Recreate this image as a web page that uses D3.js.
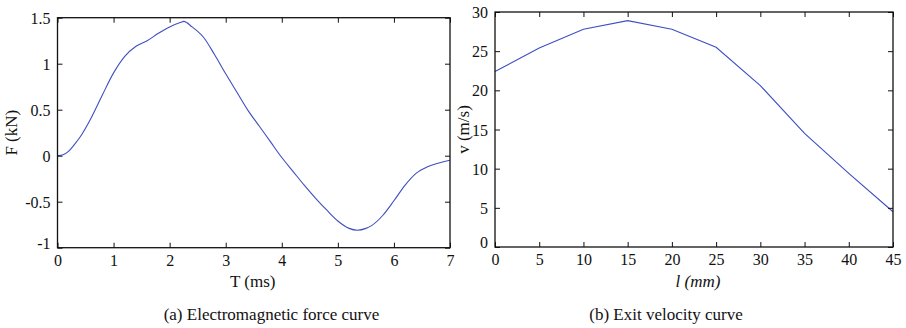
<!DOCTYPE html>
<html>
<head>
<meta charset="utf-8">
<script src="https://cdn.jsdelivr.net/npm/d3@7"></script>
<style>
  html, body { margin: 0; padding: 0; background: #fff; }
  svg, svg text { font-family: "Liberation Serif", "Times New Roman", "DejaVu Serif", serif !important; }
  svg text { fill: #111; }
</style>
</head>
<body>
<svg id="chart" width="906" height="328" font-family="Liberation Serif, serif"></svg>
<script>
// ---- Data: (a) electromagnetic force curve ----
const forceT = [0, 0.1, 0.2, 0.3, 0.4, 0.6, 0.8, 1.0, 1.2, 1.4, 1.6, 1.8, 2.0, 2.2, 2.25, 2.4, 2.6, 2.8, 3.0, 3.2, 3.4, 3.6, 3.8, 4.0, 4.2, 4.4, 4.6, 4.8, 5.0, 5.2, 5.35, 5.5, 5.6, 5.8, 6.0, 6.2, 6.4, 6.6, 6.8, 7.0];
const forceF = [0, 0.01, 0.05, 0.12, 0.20, 0.41, 0.66, 0.90, 1.08, 1.19, 1.25, 1.33, 1.40, 1.45, 1.46, 1.40, 1.29, 1.10, 0.89, 0.69, 0.49, 0.32, 0.15, -0.02, -0.17, -0.32, -0.46, -0.59, -0.71, -0.79, -0.81, -0.79, -0.76, -0.65, -0.49, -0.32, -0.19, -0.12, -0.08, -0.05];
const forceXTicks = [0, 1, 2, 3, 4, 5, 6, 7];
const forceYTicks = [-1, -0.5, 0, 0.5, 1, 1.5];

// ---- Data: (b) exit velocity curve ----
const lenL = [0, 5, 10, 15, 20, 25, 30, 35, 40, 45];
const velV = [22.4, 25.4, 27.8, 28.9, 27.8, 25.5, 20.6, 14.5, 9.4, 4.5];
const velXTicks = [0, 5, 10, 15, 20, 25, 30, 35, 40, 45];
const velYTicks = [0, 5, 10, 15, 20, 25, 30];

const svg = d3.select("#chart");
const lineColor = "#3d4fc2";
const FONT = '"Liberation Serif", "Times New Roman", serif';
const fmt = d => String(d);

function panel(cfg) {
  const x = d3.scaleLinear().domain(cfg.xDomain).range([cfg.left, cfg.right]);
  const y = d3.scaleLinear().domain(cfg.yDomain).range([cfg.bottom, cfg.top]);
  const g = svg.append("g");

  // data line
  g.append("path")
    .datum(cfg.xs.map((v, i) => [v, cfg.ys[i]]))
    .attr("fill", "none")
    .attr("stroke", lineColor)
    .attr("stroke-width", 1.1)
    .attr("d", d3.line().curve(cfg.smooth ? d3.curveMonotoneX : d3.curveLinear)
      .x(d => x(d[0])).y(d => y(d[1])));

  const tickLen = 5;
  const gb = g.append("g").attr("transform", `translate(0,${cfg.bottom})`)
    .call(d3.axisBottom(x).tickValues(cfg.xTicks).tickSizeInner(-tickLen).tickSizeOuter(0).tickFormat(fmt));
  gb.selectAll("text").attr("y", 18).attr("dy", 0).style("font-size", "16px");
  const gt = g.append("g").attr("transform", `translate(0,${cfg.top})`)
    .call(d3.axisTop(x).tickValues(cfg.xTicks).tickSizeInner(-tickLen).tickSizeOuter(0).tickFormat(""));
  const gl = g.append("g").attr("transform", `translate(${cfg.left},0)`)
    .call(d3.axisLeft(y).tickValues(cfg.yTicks).tickSizeInner(-tickLen).tickSizeOuter(0).tickFormat(fmt));
  gl.selectAll("text").attr("x", -7).attr("dy", 0)
    .attr("y", d => d === cfg.yDomain[0] ? 0.5 : 5.5)
    .style("font-size", "16px");
  const gr = g.append("g").attr("transform", `translate(${cfg.right},0)`)
    .call(d3.axisRight(y).tickValues(cfg.yTicks).tickSizeInner(-tickLen).tickSizeOuter(0).tickFormat(""));

  [gb, gt, gl, gr].forEach(a => {
    a.attr("font-family", FONT);
    a.select(".domain").remove();
    a.selectAll("line").attr("stroke", "#111").attr("stroke-width", 1);
    a.selectAll("text").attr("fill", "#111").style("font-family", FONT);
  });
  g.append("rect")
    .attr("x", cfg.left).attr("y", cfg.top)
    .attr("width", cfg.right - cfg.left).attr("height", cfg.bottom - cfg.top)
    .attr("fill", "none").attr("stroke", "#111").attr("stroke-width", 1.3);

  g.append("text")
    .attr("x", (cfg.left + cfg.right) / 2 + cfg.xLabelShift).attr("y", 287)
    .attr("text-anchor", "middle")
    .style("font-family", FONT)
    .style("font-size", "17px")
    .style("font-style", cfg.xLabelItalic ? "italic" : "normal")
    .text(cfg.xLabel);
  g.append("text")
    .attr("transform", `translate(${cfg.yLabelX},${(cfg.top + cfg.bottom) / 2}) rotate(-90)`)
    .attr("text-anchor", "middle")
    .style("font-family", FONT)
    .style("font-size", "17px")
    .text(cfg.yLabel);
  g.append("text")
    .attr("x", cfg.captionX).attr("y", 320)
    .attr("text-anchor", "middle")
    .style("font-family", FONT)
    .style("font-size", "17px")
    .text(cfg.caption);
}

panel({
  xs: forceT, ys: forceF, smooth: true,
  xDomain: [0, 7], yDomain: [-1, 1.5],
  left: 57.5, right: 450, top: 17.7, bottom: 247.7,
  xTicks: forceXTicks, yTicks: forceYTicks,
  xLabel: "T (ms)", xLabelItalic: false, xLabelShift: -1,
  yLabel: "F (kN)", yLabelX: 17,
  caption: "(a) Electromagnetic force curve", captionX: 271.5
});

panel({
  xs: lenL, ys: velV, smooth: false,
  xDomain: [0, 45], yDomain: [0, 30],
  left: 495, right: 893, top: 12, bottom: 247,
  xTicks: velXTicks, yTicks: velYTicks,
  xLabel: "l (mm)", xLabelItalic: true, xLabelShift: 4,
  yLabel: "v (m/s)", yLabelX: 469,
  caption: "(b) Exit velocity curve", captionX: 666
});
</script>
</body>
</html>
